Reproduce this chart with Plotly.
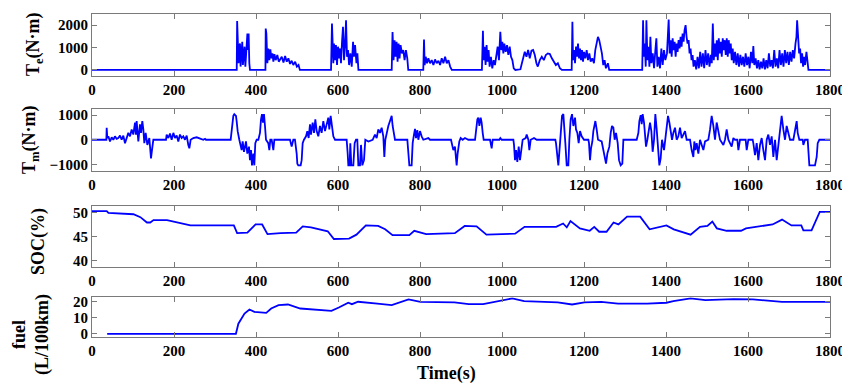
import plotly.graph_objects as go

# ---------------- data (time in s) ----------------
TE = [  # engine torque (N·m)
    (0, 0), (353, 0), (354, 2190), (356, 890), (357.5, 300), (359, 1040), (361, 1180), (362.4, 150),
    (364, 740), (366.5, 1260), (368, 220), (370, 890), (372, 1040), (374, 150), (375.5, 740), (377, 1330),
    (379, 1630), (380.4, 890), (382, 1630), (383.7, 300), (385.3, 0),
    (423, 0), (423.7, 1850), (425.3, 1630), (427.7, 300), (430, 960), (432.6, 440), (435, 920), (437.5, 520),
    (440, 740), (442.4, 370), (445, 710), (448, 440), (452, 670), (455.5, 370), (458.8, 470), (462.8, 590),
    (467, 330), (471, 620), (475, 370), (479, 520), (483, 270), (487, 410), (491, 220), (495.5, 370),
    (499.6, 150), (503.7, 220), (507, 0),
    (583, 0), (585.3, 2070), (587, 890), (588.6, 300), (590.2, 1180), (592.7, 440), (595, 1110), (597.6, 220),
    (600, 1040), (602.4, 520), (605, 960), (607.3, 300), (609.8, 1260), (612.2, 1930), (614.7, 440), (617, 1040),
    (619.6, 2220), (622, 590), (624.5, 890), (627, 220), (630.2, 740), (633.5, 150), (636.7, 1260), (639, 590),
    (641.6, 1110), (645, 300), (647.3, 740), (649.8, 0),
    (731, 0), (733, 1700), (735.5, 440), (738, 1330), (740.4, 590), (742.9, 1260), (745.3, 370), (747.8, 1180),
    (750.2, 520), (752.6, 1110), (755.9, 740), (759.2, 890), (762.4, 440), (765.7, 890), (769, 520), (771.4, 0),
    (808, 0), (809.8, 1360), (811.4, 220), (813.9, 590), (817.1, 300), (820.4, 520), (824.5, 300), (828.6, 440),
    (832.7, 220), (836.7, 470), (840.8, 300), (844.9, 410), (849, 220), (853, 520), (857, 300), (861.2, 590),
    (865.3, 300), (869.4, 440), (873.5, 150), (877.5, 0),
    (951, 0), (953.5, 1750), (955, 440), (957.5, 1040), (960, 220), (962.4, 1110), (964.9, 370), (967.3, 890),
    (969.8, 150), (973, 590), (976.3, 75), (979.6, 440), (982.8, 220), (986, 740), (989.4, 1040), (992.6, 440),
    (995.9, 1700), (998.4, 890), (1000.8, 1260), (1003.3, 740), (1005.7, 1180), (1009, 810), (1012.2, 1110),
    (1015.5, 670), (1018.8, 1040), (1022, 590), (1025.3, 440), (1028.6, 75), (1032.6, 0), (1044.9, 30),
    (1051.4, 440), (1055.5, 810), (1059.6, 590), (1063.7, 890), (1067.7, 520), (1071.8, 860), (1075.9, 890),
    (1080, 670), (1084, 300), (1087.3, 150), (1092.2, 440), (1097.1, 590), (1102, 440), (1106.9, 670),
    (1111.8, 740), (1116.7, 710), (1121.6, 520), (1126.5, 370), (1131.4, 220), (1136.3, 300), (1141.2, 75),
    (1146, 0),
    (1170, 0), (1171.7, 2150), (1173.3, 440), (1175.7, 890), (1178.1, 300), (1180.6, 1040), (1183, 590),
    (1185.4, 1180), (1187.9, 520), (1190.3, 960), (1192.7, 440), (1195.1, 890), (1197.6, 370), (1200, 810),
    (1203.2, 520), (1206.5, 890), (1209.7, 440), (1213, 740), (1216.2, 370), (1220.2, 520), (1224.3, 300),
    (1227.5, 890), (1230.8, 1260), (1234, 1480), (1237.2, 1330), (1240.5, 1040), (1243.7, 740), (1247, 220),
    (1250.2, 440), (1253.4, 75), (1258.3, 300), (1261.5, 0),
    (1342, 0), (1344.1, 2220), (1345.7, 590), (1348.2, 1180), (1350.6, 150), (1352.2, 2220), (1354.7, 440),
    (1357.1, 1040), (1359.5, 150), (1361.9, 1480), (1364.4, 300), (1367.6, 740), (1370.8, 75), (1374.1, 890),
    (1376.5, 1410), (1379, 150), (1382.2, 590), (1385.4, 75), (1388.7, 960), (1391.9, 220), (1395.1, 890),
    (1398.4, 440), (1402.4, 740), (1406.5, 2250), (1408.9, 740), (1411.3, 1330), (1413.8, 590), (1416.2, 1410),
    (1418.6, 890), (1421, 1260), (1423.5, 590), (1425.9, 1180), (1428.3, 810), (1430.7, 1330), (1433.2, 960),
    (1435.6, 1480), (1438, 1040), (1440.5, 1630), (1442.9, 1260), (1445.3, 1780), (1447.8, 2000), (1450.2, 1480),
    (1452.6, 1180), (1455.1, 1330), (1457.5, 740), (1459.9, 960), (1462.3, 440), (1464.8, 670), (1467.2, 150),
    (1470.4, 440), (1473.7, 30), (1476.9, 590), (1480.2, 75), (1483.4, 810), (1486.6, 150), (1489.9, 740),
    (1493.1, 75), (1496.3, 890), (1499.6, 220), (1502.8, 740), (1506.1, 150), (1509.3, 670), (1511.7, 300),
    (1514.2, 2070), (1516.6, 440), (1519, 1180), (1521.4, 590), (1523.9, 1330), (1526.3, 440), (1528.7, 1410),
    (1531.2, 740), (1533.6, 1260), (1536, 590), (1538.4, 1410), (1540.9, 890), (1543.3, 1330), (1545.7, 670),
    (1548.2, 1410), (1550.6, 590), (1553, 1330), (1555.5, 740), (1557.9, 1180), (1560.3, 440), (1562.7, 960),
    (1565.2, 300), (1568.4, 810), (1571.6, 220), (1574.9, 740), (1578.1, 150), (1581.4, 670), (1584.6, 220),
    (1587.8, 590), (1591.1, 150), (1594.3, 740), (1597.6, 220), (1600.8, 590), (1604, 75), (1607.3, 810),
    (1610.5, 300), (1613, 1070), (1615.4, 220), (1618.6, 520), (1621.9, 75), (1625.1, 440), (1628.3, 30),
    (1631.6, 370), (1634.8, 75), (1638, 520), (1641.3, 30), (1644.5, 440), (1647.8, 75), (1651, 740),
    (1654.2, 150), (1657.5, 440), (1660.7, 75), (1664, 890), (1667.2, 150), (1670.4, 520), (1673.7, 75),
    (1676.9, 890), (1680.2, 220), (1683.4, 740), (1686.6, 150), (1689.9, 890), (1693.1, 300), (1696.3, 810),
    (1699.6, 220), (1702.8, 810), (1706.1, 370), (1709.3, 890), (1712.5, 520), (1715.8, 1180), (1718.2, 1480),
    (1719.8, 2220), (1722.3, 1180), (1724.7, 740), (1727.1, 960), (1729.5, 300), (1732, 740), (1734.4, 150),
    (1736.8, 590), (1739.3, 220), (1742.5, 810), (1744.9, 300), (1747.4, 0), (1800, 0),
]

TM = [  # motor torque (N·m)
    (0, 0), (35, 0), (35.8, 490), (37.4, 70), (39.8, 140), (43.9, -70), (48, 100), (52, 0), (56, 140), (60, 40),
    (64.2, 70), (68.3, 170), (72.3, 0), (76.4, 170), (80.5, -140), (84.5, 70), (88.6, 280), (92.7, 140),
    (96.7, 420), (100.8, 210), (104.9, 700), (107.3, 210), (108.9, 760), (113, -70), (117, 630), (119.5, 280),
    (122.7, 760), (125.2, 420), (127.6, -140), (130.9, 280), (135, -210), (139.8, 70), (143.9, -760),
    (146.3, -420), (149.6, 0),
    (180.5, 0), (182.1, 210), (186.2, 70), (190.2, 250), (194.3, 0), (198.4, 280), (202.4, 70), (206.5, 170),
    (210.5, -70), (214.6, 210), (218.7, 70), (222.7, 140), (226.8, 0), (230.9, 170), (234.9, -210),
    (237.4, -350), (240.6, 0), (247.1, 70), (255.3, 100), (263.4, 40), (271.5, 0), (275.6, 40), (278, 0),
    (338.2, 0), (340.6, 420), (344.7, 970), (347.1, 1040), (351.2, 970), (352.8, 760), (355.3, 350), (359.3, 0),
    (362.6, -210), (365, -420), (367.5, -70), (370.7, -490), (375.6, -70), (378.8, -560), (382.9, -280),
    (385.3, -830), (387.8, -420), (390.2, -1040), (393.5, -560), (395.9, -1040), (398.3, -140), (401.6, 0),
    (405.7, 0), (409.7, 280), (412.2, 830), (414.6, 1040), (417, 700), (419.5, 1040), (421.9, 560), (424.4, 0),
    (430, -140), (432.5, -420), (434.9, 0), (438.2, 0), (442.3, -420), (444.7, 0),
    (482.9, 0), (485.3, -140), (487, -280), (491, 0), (495, 0), (499.2, -560), (500.8, -970), (503.2, -1040),
    (508.9, -1040), (511.4, -830), (513.8, -140), (517, 0), (522, 140), (525.2, 350), (528.4, 70), (531.7, 630),
    (534.1, 210), (538.2, 700), (541.5, 280), (544.7, 830), (548, 350), (552, 140), (556, 560), (560.1, 280),
    (564.2, 760), (568.3, 350), (572.3, 630), (576.4, 900), (578.8, 420), (582.1, 970), (585.3, 560),
    (588.6, 140), (592.7, 0),
    (621.1, 0), (623.6, -560), (625.2, -1040), (628.4, -1040), (630, -140), (632.5, -1040), (637.4, -1040),
    (640.6, -140), (643.9, 0), (647.1, 0), (649.6, -1040), (653.6, -1040), (656.1, -210), (659.3, -1040),
    (663.4, -830), (666.6, 0), (674, -70), (684.5, 0), (690.2, 210), (694.3, 70), (698.3, 420), (702.4, 280),
    (706.5, 490), (710.5, 140), (713, -700), (715.4, 0), (718.7, 280), (722.7, 560), (726.8, 760), (730.9, 970),
    (733.3, 560), (736.6, 140), (739, 0),
    (769.1, 0), (771.5, -700), (774, -1040), (779.6, -1040), (782.1, -140), (785.3, 210), (787.8, 440),
    (790.2, 70), (793.5, 390), (795.9, 0), (800, 350), (804, 140), (808.1, 0), (820.3, 70), (824.4, 0),
    (875.6, 0), (878, -210), (881.3, -420), (885.3, -280), (889.4, -1040), (891.8, -560), (895.9, -70),
    (899.2, 70), (904, 0), (909.7, 70), (917.9, 0),
    (934.2, 0), (936.6, 420), (939.9, 830), (942.3, 900), (944.8, 560), (948, 900), (950.4, 700), (952.9, 280),
    (955.3, 0), (970.8, 0), (972.4, -140), (974.8, -350), (977.3, 0), (993.5, 0), (996, 70), (999.2, 0),
    (1027.7, 0), (1029.3, -210), (1031.7, -830), (1034.2, -420), (1037.4, -900), (1040.7, -280), (1043.9, -830),
    (1047.2, -420), (1050.4, 0), (1057.8, 70), (1060.2, 210), (1064.3, 0), (1066.7, -420), (1070, 0),
    (1078.1, 70), (1084.6, 0),
    (1130.1, 0), (1131.7, -140), (1135, -560), (1137.4, -1040), (1141.5, -140), (1143.9, 560), (1146.4, 970),
    (1149.6, 1040), (1152.1, 560), (1154.5, -140), (1157.8, -1040), (1161.8, -1040), (1164.3, 0), (1167.5, 830),
    (1170.8, 1040), (1174, 560), (1178.1, 900), (1180.5, 420), (1183.8, 280), (1187, -140), (1190.3, 350),
    (1194.3, 140), (1200, 0),
    (1210.6, 0), (1212.2, -140), (1214.7, -830), (1217.1, -350), (1220.4, -70), (1222.8, 350), (1225.2, 630),
    (1227.7, 760), (1230.9, 420), (1234.2, 0), (1243.1, -70), (1247.2, -420), (1251.3, -900), (1253.7, -970),
    (1257, -560), (1261.8, -280), (1265.1, 280), (1268.3, 560), (1271.6, 490), (1274.8, 0), (1278.1, 280),
    (1282.2, -140), (1285.4, -830), (1289.5, -1040), (1293.5, -970), (1296, 0),
    (1328.5, 0), (1332.6, 280), (1335, 760), (1338.3, 1000), (1340.7, 630), (1343.1, 1040), (1346.4, 700),
    (1348.8, 0), (1351.3, -280), (1354.5, 0), (1357.8, 280), (1361, 700), (1364.3, 350), (1367.5, -490),
    (1370.8, 0), (1374, 1040), (1377.3, 420), (1380.5, -420), (1383.8, -1040), (1387, -760), (1390.3, 0),
    (1395.2, -420), (1398.4, 0), (1401.7, 560), (1404.9, 970), (1408.2, 700), (1411.4, 420), (1414.7, 0),
    (1417.9, 280), (1422, 490), (1426, 0), (1430.1, 140), (1434.2, 490), (1438.2, 70), (1442.3, 210),
    (1446.4, 350), (1450.4, 0),
    (1458.6, 0), (1462.6, -420), (1466.7, -700), (1469.1, -70), (1471.6, -420), (1474.8, -140), (1478.9, -560),
    (1483, 0), (1487, -210), (1491.1, -420), (1495.2, -70), (1503.3, 0), (1507.4, 420), (1511.4, 970),
    (1515.5, 560), (1519.5, 0), (1523.6, 700), (1527.7, 280), (1531.7, 0), (1539.9, -210), (1543.9, 0),
    (1548, 420), (1552.1, 0), (1560.2, -280), (1564.3, 70), (1568.3, 0), (1574, 0), (1576.5, -420),
    (1580.5, 0), (1594.3, 0), (1596.8, -420), (1600.8, 0),
    (1611.4, 0), (1613, -140), (1617.1, -630), (1621.2, -140), (1625.2, -830), (1629.3, -210), (1633.4, 70),
    (1637.4, -420), (1641.5, -830), (1645.6, 0), (1649.6, 210), (1653.7, -210), (1657.8, 140), (1661.8, -700),
    (1665.9, 0), (1670, -830), (1674, -140), (1678.1, 280), (1682.1, 970), (1686.2, 420), (1690.3, 0),
    (1694.3, 560), (1698.4, 280), (1702.5, 0), (1710.6, 0), (1714.7, 350), (1718.7, 760), (1721.2, 280),
    (1725.2, 0), (1733.4, 0), (1735, -210), (1739, 0), (1745.6, 0), (1747.2, -420), (1749.6, -1040),
    (1763.4, -1040), (1767.5, -700), (1770, -140), (1774, 0), (1800, 0),
]

SOC = [  # state of charge (%)
    (0, 50.25), (36, 50.25), (40, 49.9), (69, 49.8), (101, 49.6), (118, 49.0), (134, 47.9), (142, 47.9),
    (150, 48.4), (183, 48.4), (216, 47.7), (240, 47.3), (346, 47.3), (354, 45.7), (379, 45.8), (399, 47.5),
    (415, 47.5), (428, 45.5), (460, 45.7), (498, 45.8), (514, 47.1), (534, 46.9), (575, 46.1), (590, 44.5),
    (627, 44.6), (645, 45.4), (668, 47.3), (698, 47.2), (715, 46.5), (733, 45.3), (774, 45.3), (786, 46.2),
    (815, 45.5), (885, 45.7), (909, 47.2), (938, 47.1), (962, 45.4), (1032, 45.6), (1055, 47.0), (1132, 47.0),
    (1149, 47.7), (1158, 46.9), (1167, 48.2), (1190, 46.7), (1214, 46.2), (1225, 47.0), (1237, 46.0),
    (1255, 46.0), (1272, 47.9), (1284, 47.5), (1305, 49.1), (1337, 49.1), (1360, 46.5), (1384, 47.0),
    (1401, 47.3), (1419, 46.5), (1460, 45.4), (1483, 47.0), (1501, 47.2), (1513, 48.1), (1524, 46.7),
    (1548, 46.2), (1583, 46.2), (1595, 46.7), (1660, 47.5), (1683, 48.5), (1706, 47.3), (1730, 47.3),
    (1735, 46.3), (1755, 46.3), (1775, 50.1), (1800, 50.1),
]

FUEL = [  # fuel consumption (L/100km)
    (37, 0), (351, 0), (357, 6.3), (364, 9.5), (372, 12.6), (384, 15.2), (396, 13.7), (425, 13.1), (437, 15.8),
    (455, 17.9), (478, 18.3), (508, 15.8), (543, 15.2), (584, 14.3), (602, 16.4), (625, 19.4), (634, 18.5),
    (649, 20.0), (696, 18.9), (731, 17.9), (772, 21.5), (801, 20.0), (884, 19.6), (919, 18.5), (954, 18.5),
    (989, 20.4), (1025, 22.1), (1054, 20.4), (1095, 20.0), (1136, 19.6), (1171, 18.3), (1201, 19.6),
    (1242, 20.0), (1283, 18.9), (1354, 18.9), (1401, 19.4), (1418, 20.4), (1460, 22.1), (1496, 21.0),
    (1565, 21.7), (1612, 21.5), (1683, 20.0), (1800, 20.0),
]

x_ticks = [0, 200, 400, 600, 800, 1000, 1200, 1400, 1600, 1800]
te_ticks = [0, 1000, 2000]
tm_ticks = [-1000, 0, 1000]
soc_ticks = [40, 45, 50]
fuel_ticks = [0, 10, 20]

# ---------------- figure ----------------
# The page body has an 8 px default margin, so the figure is made 8 px smaller
# and every reference page coordinate is shifted by 8 px.
OFF = 8
W, H = 850 - OFF, 383 - OFF
PL, PR, PT, PB = 92, 830, 14, 337          # plot-area edges in page pixels
ML, MR, MT, MB = PL - OFF, 850 - PR, PT - OFF, 383 - PB
PW = PR - PL
PH = PB - PT


def ydom(top_px, bot_px):
    return [(PB - bot_px) / PH, (PB - top_px) / PH]


FONT = "Liberation Serif"
BLUE = "#0000ff"
AX = "#7a7a7a"

fig = go.Figure()
series = [TE, TM, SOC, FUEL]
for i, s in enumerate(series, start=1):
    fig.add_trace(go.Scatter(
        x=[p[0] for p in s], y=[p[1] for p in s], mode="lines",
        line=dict(color=BLUE, width=1.8), xaxis=f"x{i}" if i > 1 else "x",
        yaxis=f"y{i}" if i > 1 else "y", showlegend=False, hoverinfo="skip"))

common = dict(showline=True, linecolor=AX, linewidth=1, mirror="ticks", ticks="inside",
              ticklen=5, tickcolor=AX, showgrid=False, zeroline=False, automargin=False,
              tickfont=dict(family=FONT, size=15, color="black", weight="bold"))

doms = [ydom(14, 76), ydom(109, 170.5), ydom(206, 266.7), ydom(297.3, 337)]
ranges = [[-270, 2500], [-1250, 1250], [38.8, 51.3], [-2, 22.8]]
yticks = [te_ticks, tm_ticks, soc_ticks, fuel_ticks]

lay = {}
for i in range(4):
    xn = "xaxis" if i == 0 else f"xaxis{i+1}"
    yn = "yaxis" if i == 0 else f"yaxis{i+1}"
    ya = "y" if i == 0 else f"y{i+1}"
    xa = "x" if i == 0 else f"x{i+1}"
    lay[xn] = dict(common, domain=[0, 1], range=[0, 1800], tickvals=x_ticks, anchor=ya)
    lay[yn] = dict(common, domain=doms[i], range=ranges[i], tickvals=yticks[i], anchor=xa)

fig.update_layout(**lay)


def ax(px):
    return (px - PL) / PW


def ay(py):
    return (PB - py) / PH


tfont = dict(family=FONT, size=18, color="black", weight="bold")
labels = [
    ("T<sub>e</sub>(N·m)", 35, 44),
    ("T<sub>m</sub>(N·m)", 30, 140),
    ("SOC(%)", 39, 242),
    ("fuel<br>(L/100km)", 31, 334),
]
for txt, px, py in labels:
    fig.add_annotation(text=txt, x=ax(px), y=ay(py), xref="paper", yref="paper",
                       textangle=-90, showarrow=False, xanchor="center", yanchor="middle",
                       font=tfont)
fig.add_annotation(text="Time(s)", x=ax(446), y=ay(373), xref="paper", yref="paper",
                   showarrow=False, xanchor="center", yanchor="middle", font=tfont)

fig.update_layout(width=W, height=H, margin=dict(l=ML, r=MR, t=MT, b=MB, autoexpand=False),
                  paper_bgcolor="white", plot_bgcolor="white")

fig.write_html("out.html")
